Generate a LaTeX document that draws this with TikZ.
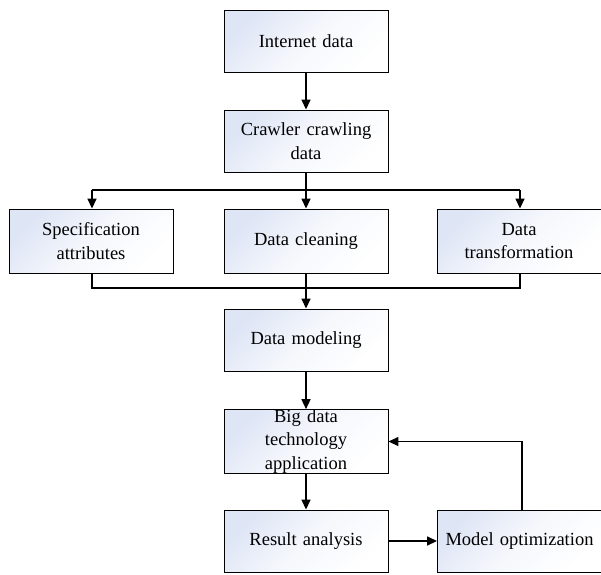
\documentclass[tikz,border=0pt]{standalone}
\usepackage{fontspec}
\setmainfont{Liberation Serif}
\usetikzlibrary{arrows.meta}
\definecolor{boxtint}{RGB}{222,229,245}
\begin{document}
\begin{tikzpicture}[x=1pt,y=-1pt,
  procbox/.style={draw=black, line width=0.9pt, rectangle, inner sep=0pt,
    minimum width=164pt, minimum height=62pt, text width=160pt, align=center,
    top color=boxtint, bottom color=white, middle color=white!70!boxtint, shading angle=45,
    font=\fontsize{18.5}{23.5}\selectfont},
  link/.style={line width=1.5pt},
  arr/.style={link, -{Triangle[length=10pt,width=9pt]}}]
\useasboundingbox (0,0) rectangle (601,574);

% main column
\node[procbox] (internet) at (306,41) {Internet data};
\node[procbox] (crawler) at (306,141) {Crawler crawling\\data};
\node[procbox, minimum height=64pt] (spec) at (91,241) {Specification\\attributes};
\node[procbox, minimum height=64pt] (clean) at (306,241) {Data cleaning};
\node[procbox, minimum height=64pt] (trans) at (519,241) {Data\\transformation};
\node[procbox] (model) at (306,340) {Data modeling};
\node[procbox, minimum height=63pt] (bigdata) at (306,441.5) {Big data\\technology\\application};
\node[procbox] (result) at (306,541) {Result analysis};
\node[procbox] (opt) at (519.5,541) {Model optimization};

% split and merge points
\coordinate (splitL) at (92,190);
\coordinate (splitR) at (520,190);
\coordinate (mergeL) at (92,288);
\coordinate (mergeR) at (520,288);

\draw[arr] (internet) -- (crawler);
\draw[arr] (crawler) -- (clean);
\draw[link] (splitL) -- (splitR);
\draw[arr] (splitL) -- (splitL |- spec.north);
\draw[arr] (splitR) -- (splitR |- trans.north);

\draw[link] (mergeL |- spec.south) -- (mergeL) -- (mergeR) -- (mergeR |- trans.south);
\draw[arr] (clean) -- (model);
\draw[arr] (model) -- (bigdata);
\draw[arr] (bigdata) -- (result);
\draw[arr] (result) -- (opt);
\draw[arr] ([xshift=2.5pt]opt.north) |- (bigdata.east);
\end{tikzpicture}
\end{document}
